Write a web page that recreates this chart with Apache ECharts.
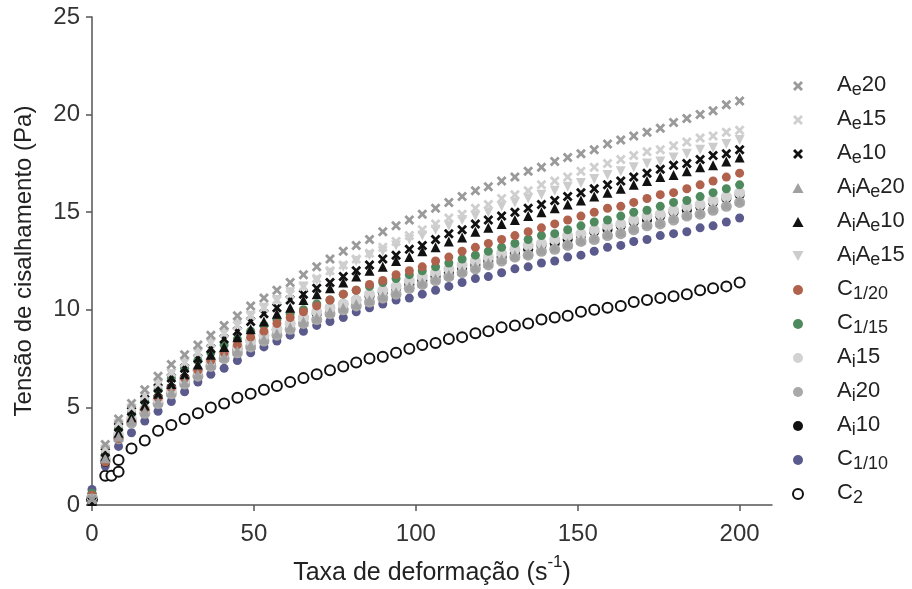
<!DOCTYPE html>
<html>
<head>
<meta charset="utf-8">
<script src="https://cdn.jsdelivr.net/npm/echarts@6/dist/echarts.min.js"></script>
<style>
  html, body { margin: 0; padding: 0; background: #fff; }
  #chart { width: 912px; height: 589px; }
</style>
</head>
<body>
<div id="chart"></div>
<script>
// taxa de deformação (s^-1), shared by every series
const shearRate = [0, 4.1, 8.2, 12.2, 16.3, 20.4, 24.5, 28.6, 32.7, 36.7,
  40.8, 44.9, 49, 53.1, 57.1, 61.2, 65.3, 69.4, 73.5, 77.6,
  81.6, 85.7, 89.8, 93.9, 98, 102, 106.1, 110.2, 114.3, 118.4,
  122.4, 126.5, 130.6, 134.7, 138.8, 142.9, 146.9, 151, 155.1, 159.2,
  163.3, 167.3, 171.4, 175.5, 179.6, 183.7, 187.8, 191.8, 195.9, 200]

// C2 has two extra readings near the start
const shearRateC2 = [0, 4.1, 6.0, 8.2, 8.2, 12.2, 16.3, 20.4, 24.5, 28.6, 32.7, 36.7,
  40.8, 44.9, 49, 53.1, 57.1, 61.2, 65.3, 69.4, 73.5, 77.6,
  81.6, 85.7, 89.8, 93.9, 98, 102, 106.1, 110.2, 114.3, 118.4,
  122.4, 126.5, 130.6, 134.7, 138.8, 142.9, 146.9, 151, 155.1, 159.2,
  163.3, 167.3, 171.4, 175.5, 179.6, 183.7, 187.8, 191.8, 195.9, 200]

const ae20 = [0.3, 3.1, 4.4, 5.2, 5.9, 6.6, 7.2, 7.7, 8.2, 8.7,
  9.2, 9.7, 10.2, 10.6, 11.0, 11.4, 11.8, 12.2, 12.6, 13.0,
  13.3, 13.6, 14.0, 14.3, 14.6, 14.9, 15.2, 15.5, 15.8, 16.1,
  16.3, 16.6, 16.8, 17.1, 17.3, 17.6, 17.8, 18.0, 18.2, 18.5,
  18.7, 18.9, 19.1, 19.3, 19.6, 19.8, 20.0, 20.2, 20.5, 20.7]
const ae15 = [0.3, 2.9, 4.2, 5.0, 5.6, 6.2, 6.8, 7.3, 7.8, 8.3,
  8.8, 9.2, 9.7, 10.1, 10.5, 10.8, 11.2, 11.6, 12.0, 12.3,
  12.6, 12.9, 13.2, 13.5, 13.8, 14.1, 14.4, 14.7, 14.9, 15.2,
  15.4, 15.7, 15.9, 16.1, 16.4, 16.6, 16.8, 17.1, 17.3, 17.5,
  17.7, 17.9, 18.1, 18.2, 18.4, 18.6, 18.8, 18.9, 19.1, 19.2]
const ae10 = [0.2, 2.7, 4.0, 4.8, 5.4, 6.0, 6.5, 7.0, 7.5, 8.0,
  8.5, 8.9, 9.4, 9.8, 10.1, 10.5, 10.8, 11.1, 11.4, 11.7,
  12.0, 12.3, 12.6, 12.8, 13.1, 13.3, 13.6, 13.9, 14.1, 14.4,
  14.6, 14.8, 15.0, 15.2, 15.4, 15.6, 15.8, 16.0, 16.2, 16.4,
  16.6, 16.8, 17.0, 17.2, 17.4, 17.5, 17.7, 17.9, 18.0, 18.2]
const aiAe20 = [0.4, 2.4, 3.5, 4.3, 4.8, 5.3, 5.8, 6.3, 6.7, 7.2,
  7.6, 7.9, 8.2, 8.5, 8.8, 9.1, 9.4, 9.6, 9.9, 10.1,
  10.3, 10.5, 10.7, 10.9, 11.2, 11.4, 11.6, 11.8, 12.0, 12.2,
  12.4, 12.6, 12.8, 12.9, 13.1, 13.2, 13.4, 13.6, 13.7, 13.9,
  14.0, 14.2, 14.4, 14.5, 14.7, 14.9, 15.0, 15.2, 15.4, 15.6]
const aiAe10 = [0.2, 2.5, 3.7, 4.5, 5.1, 5.7, 6.2, 6.7, 7.2, 7.7,
  8.1, 8.6, 9.0, 9.4, 9.8, 10.1, 10.5, 10.8, 11.1, 11.4,
  11.7, 12.0, 12.2, 12.5, 12.7, 13.0, 13.2, 13.5, 13.7, 14.0,
  14.2, 14.4, 14.6, 14.8, 15.0, 15.2, 15.4, 15.6, 15.8, 16.0,
  16.2, 16.4, 16.6, 16.8, 16.9, 17.1, 17.3, 17.4, 17.6, 17.8]
const aiAe15 = [0.3, 2.8, 4.1, 4.9, 5.5, 6.2, 6.7, 7.3, 7.8, 8.3,
  8.8, 9.3, 9.7, 10.1, 10.5, 10.9, 11.2, 11.5, 11.9, 12.2,
  12.5, 12.8, 13.0, 13.3, 13.6, 13.8, 14.1, 14.3, 14.6, 14.8,
  15.0, 15.3, 15.5, 15.7, 15.9, 16.1, 16.3, 16.5, 16.7, 16.9,
  17.1, 17.3, 17.5, 17.6, 17.8, 18.0, 18.2, 18.3, 18.5, 18.7]
const c120 = [0.5, 2.2, 3.4, 4.3, 4.9, 5.5, 6.0, 6.5, 6.9, 7.4,
  7.8, 8.2, 8.6, 8.9, 9.3, 9.6, 9.9, 10.2, 10.5, 10.8,
  11.0, 11.3, 11.5, 11.8, 12.0, 12.2, 12.5, 12.7, 13.0, 13.2,
  13.4, 13.6, 13.8, 14.0, 14.2, 14.4, 14.6, 14.8, 15.0, 15.2,
  15.3, 15.5, 15.7, 15.9, 16.0, 16.2, 16.4, 16.6, 16.8, 17.0]
const c115 = [0.6, 2.6, 3.9, 4.7, 5.3, 5.9, 6.5, 7.0, 7.4, 7.8,
  8.2, 8.5, 8.9, 9.2, 9.5, 9.8, 10.0, 10.3, 10.5, 10.8,
  11.0, 11.2, 11.4, 11.6, 11.8, 12.0, 12.2, 12.4, 12.6, 12.8,
  13.0, 13.2, 13.4, 13.6, 13.8, 13.9, 14.1, 14.3, 14.5, 14.6,
  14.8, 15.0, 15.1, 15.3, 15.5, 15.6, 15.8, 16.0, 16.2, 16.4]
const ai15 = [0.4, 2.4, 3.6, 4.4, 4.9, 5.4, 5.9, 6.4, 6.9, 7.4,
  7.8, 8.1, 8.4, 8.7, 9.0, 9.3, 9.6, 9.9, 10.1, 10.3,
  10.5, 10.8, 11.0, 11.2, 11.5, 11.7, 11.9, 12.1, 12.3, 12.5,
  12.7, 12.9, 13.1, 13.3, 13.4, 13.6, 13.8, 13.9, 14.1, 14.3,
  14.4, 14.6, 14.8, 14.9, 15.1, 15.3, 15.4, 15.6, 15.8, 16.0]
const ai20 = [0.4, 2.3, 3.4, 4.2, 4.7, 5.2, 5.7, 6.2, 6.6, 7.1,
  7.5, 7.8, 8.1, 8.4, 8.7, 9.0, 9.3, 9.5, 9.8, 10.0,
  10.2, 10.4, 10.6, 10.8, 11.1, 11.3, 11.5, 11.7, 11.9, 12.1,
  12.3, 12.5, 12.7, 12.8, 13.0, 13.1, 13.3, 13.5, 13.6, 13.8,
  13.9, 14.1, 14.3, 14.4, 14.6, 14.8, 14.9, 15.1, 15.3, 15.5]
const ai10 = [0.5, 2.2, 3.5, 4.3, 4.9, 5.5, 6.0, 6.5, 6.9, 7.3,
  7.7, 8.0, 8.4, 8.7, 9.0, 9.3, 9.6, 9.8, 10.1, 10.3,
  10.5, 10.7, 10.9, 11.1, 11.3, 11.5, 11.7, 11.9, 12.1, 12.3,
  12.5, 12.7, 12.9, 13.1, 13.3, 13.4, 13.6, 13.8, 14.0, 14.1,
  14.3, 14.5, 14.6, 14.8, 15.0, 15.1, 15.3, 15.5, 15.7, 15.9]
const c110 = [0.8, 2.0, 3.0, 3.7, 4.3, 4.8, 5.3, 5.8, 6.3, 6.7,
  7.0, 7.4, 7.8, 8.1, 8.4, 8.7, 8.9, 9.2, 9.4, 9.6,
  9.9, 10.1, 10.3, 10.5, 10.6, 10.8, 11.0, 11.2, 11.4, 11.6,
  11.7, 11.9, 12.1, 12.2, 12.4, 12.5, 12.7, 12.8, 13.0, 13.2,
  13.3, 13.5, 13.6, 13.8, 13.9, 14.0, 14.2, 14.3, 14.5, 14.7]
const c2 = [0.3, 1.5, 1.5, 1.7, 2.3, 2.9, 3.3, 3.8, 4.1, 4.4, 4.7, 5.0,
  5.2, 5.5, 5.7, 5.9, 6.1, 6.3, 6.5, 6.7, 6.9, 7.1,
  7.3, 7.5, 7.6, 7.8, 8.0, 8.2, 8.3, 8.5, 8.6, 8.8,
  8.9, 9.1, 9.2, 9.3, 9.5, 9.6, 9.7, 9.9, 10.0, 10.1,
  10.2, 10.4, 10.5, 10.6, 10.7, 10.8, 11.0, 11.1, 11.2, 11.4]

const xTicks = [0, 50, 100, 150, 200]

const crossPath = 'path://M2,0 L5,3 L8,0 L10,2 L7,5 L10,8 L8,10 L5,7 L2,10 L0,8 L3,5 L0,2 Z'
const upTriPath = 'path://M5,0 L10,9 L0,9 Z'
const downTriPath = 'path://M0,0 L10,0 L5,9 Z'

// name, label (rich), values, x values, symbol, size, colour
const seriesDefs = [
  ['Ae20', '{n|A}{s|e}{n|20}', ae20, shearRate, crossPath, 10, '#9a9a9a'],
  ['Ae15', '{n|A}{s|e}{n|15}', ae15, shearRate, crossPath, 10, '#cfcfcf'],
  ['Ae10', '{n|A}{s|e}{n|10}', ae10, shearRate, crossPath, 10, '#111111'],
  ['AiAe20', '{n|A}{s|i}{n|A}{s|e}{n|20}', aiAe20, shearRate, upTriPath, 10, '#a0a0a0'],
  ['AiAe10', '{n|A}{s|i}{n|A}{s|e}{n|10}', aiAe10, shearRate, upTriPath, 10, '#111111'],
  ['AiAe15', '{n|A}{s|i}{n|A}{s|e}{n|15}', aiAe15, shearRate, downTriPath, 10, '#cccccc'],
  ['C1/20', '{n|C}{s|1/20}', c120, shearRate, 'circle', 9, '#b0624c'],
  ['C1/15', '{n|C}{s|1/15}', c115, shearRate, 'circle', 9, '#4f8a5e'],
  ['Ai15', '{n|A}{s|i}{n|15}', ai15, shearRate, 'circle', 11, '#d2d2d2'],
  ['Ai20', '{n|A}{s|i}{n|20}', ai20, shearRate, 'circle', 11, '#a9a9a9'],
  ['Ai10', '{n|A}{s|i}{n|10}', ai10, shearRate, 'circle', 10, '#111111'],
  ['C1/10', '{n|C}{s|1/10}', c110, shearRate, 'circle', 9, '#5b5a8c'],
  ['C2', '{n|C}{s|2}', c2, shearRateC2, 'emptyCircle', 10, '#111111']
]

const labelMap = {}
seriesDefs.forEach((d) => { labelMap[d[0]] = d[1] })

const fontFamily = '"Liberation Sans", Arial, sans-serif'

const chart = echarts.init(document.getElementById('chart'))

const series = seriesDefs.map((d, k) => {
  const isHollow = d[4] === 'emptyCircle'
  return {
    name: d[0],
    type: 'scatter',
    symbol: d[4],
    symbolSize: d[5],
    z: 30 - k,
    data: d[2].map((v, i) => [d[3][i], v]),
    itemStyle: isHollow
      ? { color: d[6], borderColor: d[6], borderWidth: 2, opacity: 1 }
      : { color: d[6], opacity: 1 },
    emphasis: { disabled: true }
  }
})

chart.setOption({
  backgroundColor: '#fff',
  animation: false,
  textStyle: { fontFamily: fontFamily },
  grid: { left: 92, right: 140, top: 17, bottom: 84, outerBoundsMode: 'none' },
  legend: {
    orient: 'vertical',
    left: 787,
    top: 69,
    itemWidth: 14,
    itemHeight: 10,
    itemGap: 9,
    data: seriesDefs.map((d) => d[0]),
    formatter: (name) => labelMap[name],
    textStyle: {
      color: '#222',
      padding: [0, 0, 0, 27],
      rich: {
        n: { fontSize: 22, color: '#222', fontFamily: fontFamily, lineHeight: 24, verticalAlign: 'top' },
        s: { fontSize: 18, color: '#222', fontFamily: fontFamily, lineHeight: 24, verticalAlign: 'top', padding: [7, 0, 0, 0] }
      }
    }
  },
  xAxis: {
    type: 'value',
    min: 0,
    max: 210,
    interval: 50,
    name: '{n|Taxa de deformação (s}{sup|-1}{n|)}',
    nameLocation: 'middle',
    nameGap: 49,
    nameTextStyle: {
      rich: {
        n: { fontSize: 25, color: '#222', fontFamily: fontFamily, lineHeight: 30, verticalAlign: 'top', padding: [7, 0, 0, 0] },
        sup: { fontSize: 17, color: '#222', fontFamily: fontFamily, lineHeight: 30, verticalAlign: 'top' }
      }
    },
    splitLine: { show: false },
    axisLine: { show: true, lineStyle: { color: '#555', width: 1.5 } },
    axisTick: { show: true, length: 6, customValues: xTicks, lineStyle: { color: '#555', width: 1.5 } },
    axisLabel: { fontSize: 24, color: '#333', margin: 17, customValues: xTicks }
  },
  yAxis: {
    type: 'value',
    min: 0,
    max: 25,
    interval: 5,
    name: 'Tensão de cisalhamento (Pa)',
    nameLocation: 'middle',
    nameGap: 56,
    nameTextStyle: { fontSize: 24, color: '#222' },
    splitLine: { show: false },
    axisLine: { show: true, lineStyle: { color: '#555', width: 1.5 } },
    axisTick: { show: true, length: 6, lineStyle: { color: '#555', width: 1.5 } },
    axisLabel: { fontSize: 24, color: '#333', margin: 12 }
  },
  series: series
})
</script>
</body>
</html>
